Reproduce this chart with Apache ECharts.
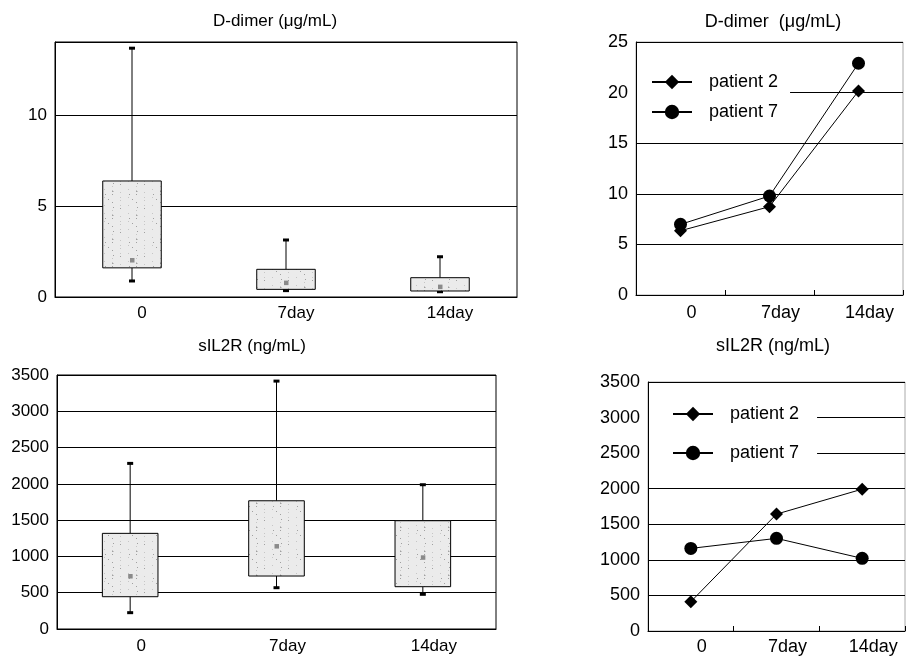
<!DOCTYPE html>
<html><head><meta charset="utf-8">
<script src="https://cdn.jsdelivr.net/npm/echarts@6/dist/echarts.min.js"></script>
<style>html,body{margin:0;padding:0;background:#fff}#c{width:908px;height:656px}</style>
</head><body><div id="c"></div>
<script>
const days = ['0', '7day', '14day'];
// box plots: [min, q1, median, q3, max]
const ddimerBox = [[0.88, 1.6, 2.03, 6.37, 13.66], [0.35, 0.42, 0.79, 1.52, 3.13], [0.29, 0.33, 0.57, 1.06, 2.21]];
const sil2rBox = [[225, 445, 730, 1318, 2282], [569, 730, 1143, 1767, 3416], [478, 583, 988, 1492, 1988]];
const ddimerP2 = [6.35, 8.73, 20.16];
const ddimerP7 = [6.98, 9.78, 22.9];
const sil2rP2 = [412, 1643, 1994];
const sil2rP7 = [1161, 1302, 1021];
const patients = ['patient 2', 'patient 7'];
const titles = ['D-dimer (μg/mL)', 'D-dimer  (μg/mL)', 'sIL2R (ng/mL)', 'sIL2R (ng/mL)'];

const FONT = '"Liberation Sans", Arial, sans-serif';

// stipple texture for the boxes (deterministic)
const pc = document.createElement('canvas');
pc.width = pc.height = 24;
const g = pc.getContext('2d');
g.fillStyle = '#ebebeb'; g.fillRect(0, 0, 24, 24);
let s = 7;
for (let k = 0; k < 240; k++) {
  s = (s * 1103515245 + 12345) % 2147483648;
  const px = s % 24; const py = Math.floor(s / 24) % 24;
  g.fillStyle = (k % 3 === 0) ? '#a0a0a0' : '#c6c6c6';
  g.fillRect(px, py, 1, 1);
}
const pattern = { image: pc, repeat: 'repeat' };

function renderBox(params, api) {
  const i = api.value(0);
  const pMin = api.coord([i, api.value(1)]);
  const pQ1 = api.coord([i, api.value(2)]);
  const pMed = api.coord([i, api.value(3)]);
  const pQ3 = api.coord([i, api.value(4)]);
  const pMax = api.coord([i, api.value(5)]);
  const w = api.size([1, 0])[0] * 0.38;
  const cx = pQ1[0];
  return {
    type: 'group', children: [
      { type: 'line', shape: { x1: cx, y1: pMax[1], x2: cx, y2: pQ3[1] }, style: { stroke: '#000', lineWidth: 1 } },
      { type: 'line', shape: { x1: cx, y1: pQ1[1], x2: cx, y2: pMin[1] }, style: { stroke: '#000', lineWidth: 1 } },
      { type: 'rect', shape: { x: cx - 3, y: pMax[1] - 1.5, width: 6, height: 3 }, style: { fill: '#000' } },
      { type: 'rect', shape: { x: cx - 3, y: pMin[1] - 1.5, width: 6, height: 3 }, style: { fill: '#000' } },
      { type: 'rect', shape: { x: cx - w / 2, y: pQ3[1], width: w, height: pQ1[1] - pQ3[1] }, style: { fill: pattern, stroke: '#000', lineWidth: 1 } },
      { type: 'rect', shape: { x: cx - 2, y: pMed[1] - 2, width: 4.5, height: 4.5 }, style: { fill: '#8a8a8a' } }
    ]
  };
}

const splitLine = { show: true, lineStyle: { color: '#000', width: 1 } };

function xAx(idx, padL, margin, fs, ticks) {
  return {
    type: 'category', gridIndex: idx, data: days, boundaryGap: true,
    axisLine: { show: true, lineStyle: { color: '#000', width: 1 } },
    axisTick: { show: ticks, inside: true, length: 5, lineStyle: { color: '#000' } },
    axisLabel: { color: '#000', fontSize: fs, fontFamily: FONT, margin: margin, padding: [0, 0, 0, padL] },
    splitLine: { show: false }
  };
}
function yAx(idx, min, max, interval, fs, showMax) {
  return {
    type: 'value', gridIndex: idx, min: min, max: max, interval: interval,
    axisLine: { show: true, lineStyle: { color: '#000', width: 1 } },
    axisTick: { show: false },
    axisLabel: { color: '#000', fontSize: fs, fontFamily: FONT, margin: 8, showMaxLabel: showMax,
      formatter: v => String(v) },
    splitLine: splitLine
  };
}

function lineSeries(name, symbol, size, idx, data) {
  return {
    type: 'line', name: name, xAxisIndex: idx, yAxisIndex: idx, data: data,
    symbol: symbol, symbolSize: size, showAllSymbol: true,
    lineStyle: { color: '#000', width: 1 }, itemStyle: { color: '#000' },
    emphasis: { disabled: true }
  };
}

const legendText = { color: '#000', fontSize: 18, fontFamily: FONT, padding: [0, 0, 0, 12] };

const option = {
  animation: false,
  backgroundColor: '#fff',
  title: [
    { text: titles[0], left: 270, top: 8, textAlign: 'center', textStyle: { fontSize: 17, fontWeight: 'normal', color: '#000', fontFamily: FONT } },
    { text: titles[1], left: 768, top: 8, textAlign: 'center', textStyle: { fontSize: 18, fontWeight: 'normal', color: '#000', fontFamily: FONT } },
    { text: titles[2], left: 247, top: 333, textAlign: 'center', textStyle: { fontSize: 17, fontWeight: 'normal', color: '#000', fontFamily: FONT } },
    { text: titles[3], left: 768, top: 332, textAlign: 'center', textStyle: { fontSize: 18, fontWeight: 'normal', color: '#000', fontFamily: FONT } }
  ],
  grid: [
    { left: 55, top: 42, width: 462, height: 255, show: true, borderColor: '#000', borderWidth: 1 },
    { left: 636, top: 42, width: 267, height: 253, show: true, borderColor: '#aaa', borderWidth: 1 },
    { left: 57, top: 375, width: 439, height: 254, show: true, borderColor: '#000', borderWidth: 1 },
    { left: 648, top: 382, width: 257, height: 249, show: true, borderColor: '#aaa', borderWidth: 1 }
  ],
  xAxis: [
    xAx(0, 20, 8, 17, false),
    xAx(1, 22, 9, 18, true),
    xAx(2, 22, 9, 17, false),
    xAx(3, 22, 7, 18, true)
  ],
  yAxis: [
    yAx(0, 0, 14, 5, 17, false),
    yAx(1, 0, 25, 5, 18, true),
    yAx(2, 0, 3500, 500, 17, true),
    yAx(3, 0, 3500, 500, 18, true)
  ],
  legend: [
    { data: patients, orient: 'vertical', left: 637, top: 69, itemWidth: 40, itemHeight: 18, itemGap: 12,
      backgroundColor: '#fff', padding: [4, 12, 4, 14], textStyle: legendText, selectedMode: false },
    { data: patients, orient: 'vertical', left: 649, top: 401, itemWidth: 40, itemHeight: 18, itemGap: 21,
      backgroundColor: '#fff', padding: [4, 18, 4, 23], textStyle: legendText, selectedMode: false }
  ],
  series: [
    { type: 'custom', name: 'D-dimer box', xAxisIndex: 0, yAxisIndex: 0, renderItem: renderBox,
      encode: { x: 0, y: [1, 2, 3, 4, 5] }, data: ddimerBox.map((b, i) => [i].concat(b)) },
    { type: 'custom', name: 'sIL2R box', xAxisIndex: 2, yAxisIndex: 2, renderItem: renderBox,
      encode: { x: 0, y: [1, 2, 3, 4, 5] }, data: sil2rBox.map((b, i) => [i].concat(b)) },
    lineSeries(patients[0], 'diamond', 13, 1, ddimerP2),
    lineSeries(patients[1], 'circle', 13, 1, ddimerP7),
    lineSeries(patients[0], 'diamond', 13, 3, sil2rP2),
    lineSeries(patients[1], 'circle', 13, 3, sil2rP7)
  ]
};

const chart = echarts.init(document.getElementById('c'), null, { renderer: 'canvas' });
chart.setOption(option);
</script>
</body></html>
